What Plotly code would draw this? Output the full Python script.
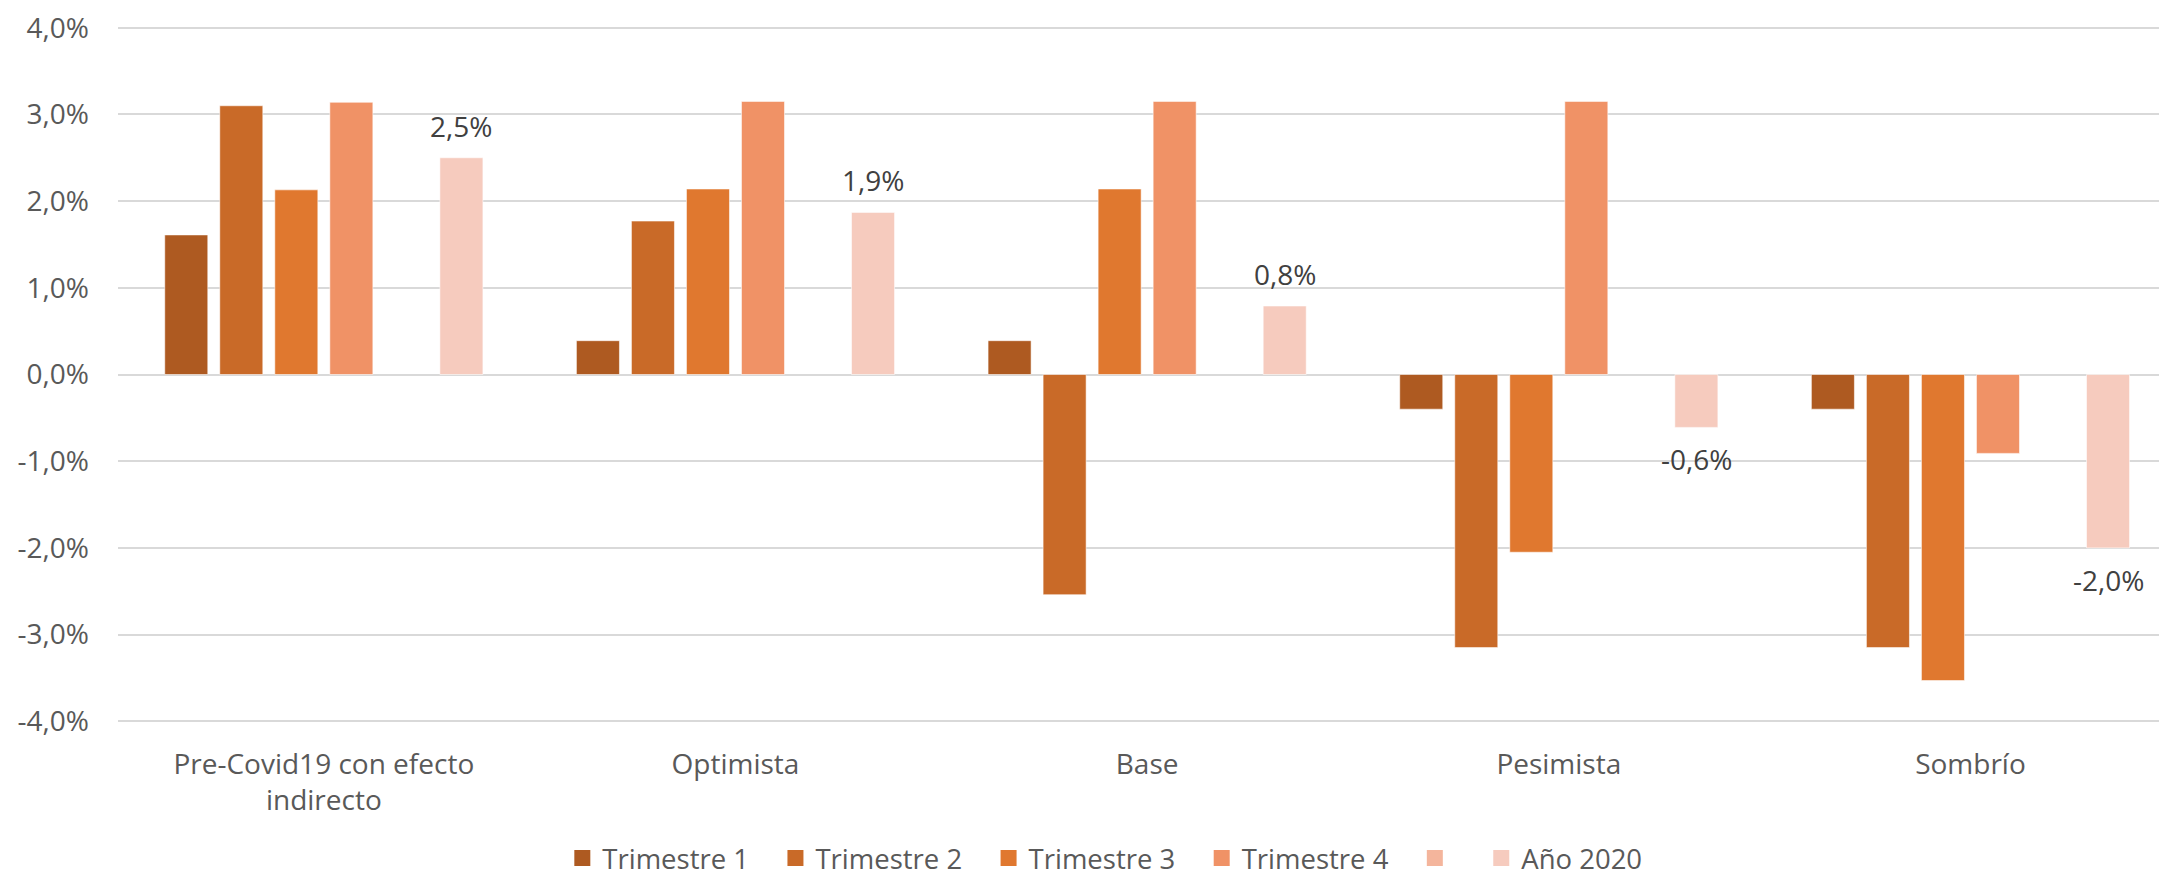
import plotly.graph_objects as go

categories = ["Pre-Covid19 con efecto<br>indirecto", "Optimista", "Base", "Pesimista", "Sombrío"]
series_names = ["Trimestre 1", "Trimestre 2", "Trimestre 3", "Trimestre 4", "", "Año 2020"]
trimestre_1 = [1.61, 0.39, 0.39, -0.40, -0.40]
trimestre_2 = [3.10, 1.77, -2.54, -3.15, -3.15]
trimestre_3 = [2.13, 2.14, 2.14, -2.05, -3.53]
trimestre_4 = [3.14, 3.15, 3.15, 3.15, -0.91]
blank_series = [None, None, None, None, None]
anio_2020 = [2.50, 1.87, 0.79, -0.61, -2.00]
anio_labels = ["2,5%", "1,9%", "0,8%", "-0,6%", "-2,0%"]
y_ticks = [-4, -3, -2, -1, 0, 1, 2, 3, 4]

colors = ["#AE5A21", "#C96A28", "#E0782F", "#F09266", "#F4B59C", "#F6CBBE"]
values = [trimestre_1, trimestre_2, trimestre_3, trimestre_4, blank_series, anio_2020]

FONT = "Open Sans"
FS = 28
BARGAP = 0.198
BARGROUPGAP = 0.218

fig = go.Figure()
for name, vals, col in zip(series_names, values, colors):
    fig.add_trace(go.Bar(
        x=categories, y=vals, name=name, marker_color=col,
        marker_line=dict(width=1, color="rgba(255,255,255,0.55)"),
        showlegend=False, hoverinfo="skip",
    ))

# legend entries (larger squares like the original)
legend_names = ["Trimestre 1\u00a0\u00a0\u00a0", "Trimestre 2\u00a0\u00a0\u00a0", "Trimestre 3\u00a0\u00a0\u00a0",
                "Trimestre 4\u00a0\u00a0\u00a0", "\u00a0\u00a0\u00a0", "Año 2020"]
for name, col in zip(legend_names, colors):
    fig.add_trace(go.Scatter(
        x=[None], y=[None], mode="markers", name=name,
        marker=dict(symbol="square", size=16, color=col, line=dict(width=0)),
        showlegend=True, hoverinfo="skip",
    ))

# data labels for "Año 2020"
n = len(series_names)
slot = (1 - BARGAP) / n
offset = -(1 - BARGAP) / 2 + (n - 0.5) * slot
for i, (v, lab) in enumerate(zip(anio_2020, anio_labels)):
    fig.add_annotation(
        x=i + offset, y=v, text=lab, showarrow=False, xref="x", yref="y",
        yanchor="bottom" if v >= 0 else "top",
        yshift=11 if v >= 0 else -11,
        font=dict(family=FONT, size=FS, color="#404040"),
    )

fig.update_layout(
    width=2159, height=878,
    barmode="group", bargap=BARGAP, bargroupgap=BARGROUPGAP,
    plot_bgcolor="white", paper_bgcolor="white",
    margin=dict(l=118, r=0, t=26, b=155, autoexpand=False),
    font=dict(family=FONT, size=FS, color="#595959"),
    legend=dict(
        orientation="h", x=0.4835, xanchor="center", y=-0.194, yanchor="middle",
        font=dict(family=FONT, size=27.5, color="#595959"),
        itemclick=False, itemdoubleclick=False, tracegroupgap=0,
    ),
    showlegend=True,
)
fig.update_xaxes(
    type="category", range=[-0.5, 4.458], showgrid=False, showline=False,
    zeroline=False, ticks="", tickfont=dict(family=FONT, size=FS, color="#595959"),
    ticklabelstandoff=22,
)
fig.update_yaxes(
    range=[-4.02, 4.02], tickvals=y_ticks,
    ticktext=[f"{v:.1f}%".replace(".", ",") for v in y_ticks],
    showgrid=True, gridcolor="#D9D9D9", gridwidth=1.5,
    zeroline=True, zerolinecolor="#D9D9D9", zerolinewidth=1.5,
    showline=False, ticks="", ticklabelstandoff=28,
    tickfont=dict(family=FONT, size=FS, color="#595959"),
)

fig.write_html(
    "out.html",
    config={"displayModeBar": False},
    post_script="document.body.style.margin='0';document.body.style.overflow='hidden';",
)
